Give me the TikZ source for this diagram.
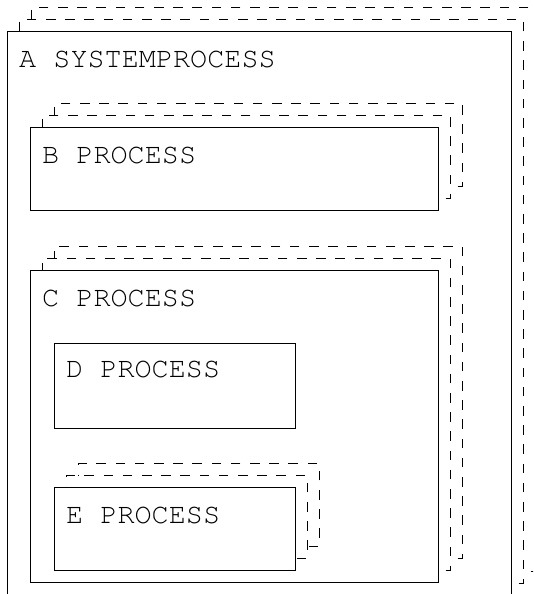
\documentclass[tikz,border=0pt]{standalone}
\usepackage{fontspec}
\newfontfamily\courfont{TeX Gyre Cursor}
\begin{document}
\begin{tikzpicture}[x=1pt,y=-1pt,
  frontbox/.style={draw=black,fill=white,line width=1pt,inner sep=0pt,anchor=north west},
  backbox/.style={frontbox,dash pattern=on 9.5pt off 9.7pt},
  lbl/.style={anchor=base west,inner sep=0pt,font=\courfont\fontsize{28.5}{30}\selectfont}]
\useasboundingbox (0,0) rectangle (533,594);
\clip (0,0) rectangle (533,594);
% #1 name, #2 x, #3 y, #4 w, #5 h
\newcommand\mstackbox[5]{%
  \node[backbox,minimum width=#4pt,minimum height=#5pt] (#1b2) at (#2+24,#3-24) {};
  \node[backbox,minimum width=#4pt,minimum height=#5pt] (#1b1) at (#2+12,#3-12) {};
  \node[frontbox,minimum width=#4pt,minimum height=#5pt] (#1) at (#2,#3) {};}
\mstackbox{A}{7}{31}{504}{564}
\node[lbl] (Alabel) at ([xshift=12pt,yshift=-36pt]A.north west) {A SYSTEMPROCESS};
\mstackbox{B}{30}{127}{408}{83}
\node[lbl] (Blabel) at ([xshift=12pt,yshift=-36pt]B.north west) {B PROCESS};
\mstackbox{C}{30}{270}{408}{312}
\node[lbl] (Clabel) at ([xshift=12pt,yshift=-36pt]C.north west) {C PROCESS};
\node[frontbox,minimum width=241pt,minimum height=85pt] (D) at (54,343) {};
\node[lbl] (Dlabel) at ([xshift=12pt,yshift=-34pt]D.north west) {D PROCESS};
\mstackbox{E}{54}{487}{241}{83}
\node[lbl] (Elabel) at ([xshift=12pt,yshift=-36pt]E.north west) {E PROCESS};
\end{tikzpicture}
\end{document}
